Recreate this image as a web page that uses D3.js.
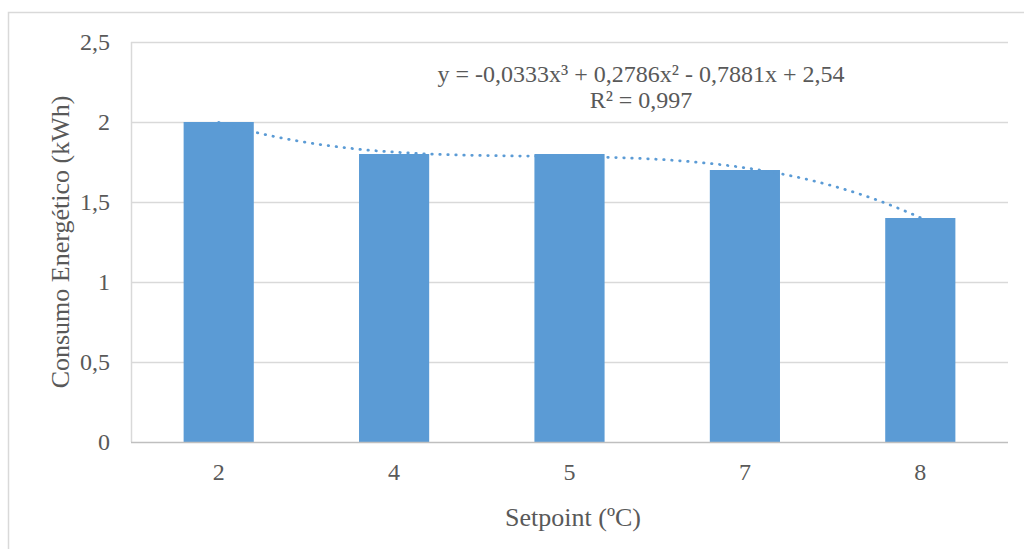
<!DOCTYPE html>
<html>
<head>
<meta charset="utf-8">
<script src="https://cdn.jsdelivr.net/npm/d3@7"></script>
<style>
  body { margin: 0; background: #fff; }
  svg text { font-family: "Liberation Serif", "Times New Roman", serif; fill: #595959; }
</style>
</head>
<body>
<svg id="chart" width="1024" height="549"></svg>
<script>
// data
const setpoints = ['2', '4', '5', '7', '8'];
const consumo = [2, 1.8, 1.8, 1.7, 1.4];
const yTicks = [0, 0.5, 1, 1.5, 2, 2.5];
// trendline coefficients as printed: c0 + c1 x + c2 x^2 + c3 x^3
const trendCoef = [2.54, -0.7881, 0.2786, -0.0333];
const trendLabel = 'y = -0,0333x³ + 0,2786x² - 0,7881x + 2,54';
const r2Label = 'R² = 0,997';

const svg = d3.select('#chart');
const plot = { left: 131, right: 1008, top: 42, bottom: 442 };
const fontSize = 24;
const titleSize = 26;
const blue = '#5b9bd5';

const ptBR = d3.formatLocale({ decimal: ',', thousands: '.', grouping: [3], currency: ['', ''] });
const fmt = ptBR.format('~g');

// chart area border
svg.append('rect')
    .attr('x', 8.5)
    .attr('y', 12.5)
    .attr('width', 1040)
    .attr('height', 560)
    .attr('fill', 'none')
    .attr('stroke', '#d9d9d9')
    .attr('stroke-width', 1.5);

const x = d3.scaleBand()
    .domain(setpoints)
    .range([plot.left, plot.right])
    .paddingInner(0.6)
    .paddingOuter(0.3);

const y = d3.scaleLinear()
    .domain([0, 2.5])
    .range([plot.bottom, plot.top]);

// gridlines
svg.append('g')
    .selectAll('line')
    .data(yTicks.filter(d => d > 0))
    .enter()
    .append('line')
    .attr('x1', plot.left)
    .attr('x2', plot.right)
    .attr('y1', d => Math.round(y(d)) + 0.5)
    .attr('y2', d => Math.round(y(d)) + 0.5)
    .attr('stroke', '#d9d9d9')
    .attr('stroke-width', 1.5);

// left plot edge
svg.append('line')
    .attr('x1', plot.left + 0.5)
    .attr('x2', plot.left + 0.5)
    .attr('y1', plot.top)
    .attr('y2', plot.bottom)
    .attr('stroke', '#d9d9d9')
    .attr('stroke-width', 1.5);

// bars
svg.append('g')
    .selectAll('rect')
    .data(consumo)
    .enter()
    .append('rect')
    .attr('x', (d, i) => x(setpoints[i]))
    .attr('width', x.bandwidth())
    .attr('y', d => y(d))
    .attr('height', d => y(0) - y(d))
    .attr('fill', blue);

// x axis line
svg.append('line')
    .attr('x1', plot.left)
    .attr('x2', plot.right)
    .attr('y1', plot.bottom + 0.5)
    .attr('y2', plot.bottom + 0.5)
    .attr('stroke', '#bfbfbf')
    .attr('stroke-width', 1.5);

// y axis labels
const yAxis = svg.append('g')
    .attr('transform', `translate(${plot.left - 21},0)`)
    .call(d3.axisLeft(y).tickValues(yTicks).tickSize(0).tickPadding(0).tickFormat(fmt));
yAxis.select('.domain').remove();
yAxis.selectAll('text')
    .attr('font-size', fontSize)
    .attr('font-family', null)
    .attr('dy', '0.32em');

// x axis labels
const xAxis = svg.append('g')
    .attr('transform', `translate(0,${plot.bottom})`)
    .call(d3.axisBottom(x).tickSize(0).tickPadding(0));
xAxis.select('.domain').remove();
xAxis.selectAll('text')
    .attr('font-size', fontSize)
    .attr('font-family', null)
    .attr('dy', null)
    .attr('y', 38);

// polynomial trendline, Excel uses category index 1..n as x
const xi = d3.scaleLinear()
    .domain([1, setpoints.length])
    .range([x(setpoints[0]) + x.bandwidth() / 2, x(setpoints[setpoints.length - 1]) + x.bandwidth() / 2]);
const poly = t => trendCoef.reduce((s, c, k) => s + c * Math.pow(t, k), 0);
const trendPts = d3.range(1, setpoints.length + 0.001, 0.05).map(t => [xi(t), y(poly(t))]);

svg.append('path')
    .datum(trendPts)
    .attr('d', d3.line().curve(d3.curveLinear))
    .attr('fill', 'none')
    .attr('stroke', blue)
    .attr('stroke-width', 2.75)
    .attr('stroke-linecap', 'round')
    .attr('stroke-dasharray', '0.5 7.5');

// trendline label
const labelX = 641;
svg.append('text')
    .attr('x', labelX)
    .attr('y', 82)
    .attr('text-anchor', 'middle')
    .attr('font-size', fontSize)
    .text(trendLabel);
svg.append('text')
    .attr('x', labelX)
    .attr('y', 108)
    .attr('text-anchor', 'middle')
    .attr('font-size', fontSize)
    .text(r2Label);

// axis titles
svg.append('text')
    .attr('x', 573)
    .attr('y', 526)
    .attr('text-anchor', 'middle')
    .attr('font-size', titleSize)
    .text('Setpoint (ºC)');

svg.append('text')
    .attr('transform', `translate(69,${(plot.top + plot.bottom) / 2}) rotate(-90)`)
    .attr('text-anchor', 'middle')
    .attr('font-size', titleSize)
    .text('Consumo Energético (kWh)');
</script>
</body>
</html>
